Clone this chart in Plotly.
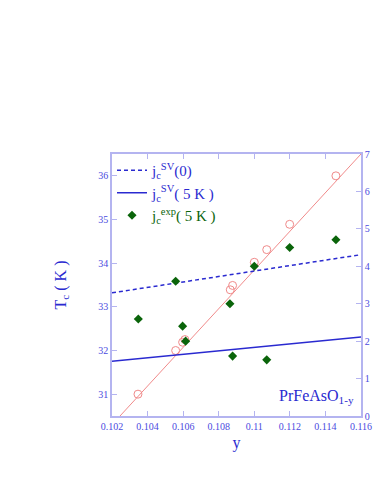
import plotly.graph_objects as go

# Tc vs y (left axis)
tc_y = [0.10346, 0.10558, 0.10597, 0.10610, 0.10865, 0.10878, 0.11000, 0.11070, 0.11199, 0.11459]
tc_val = [31.0, 32.0, 32.19, 32.25, 33.39, 33.49, 34.02, 34.31, 34.89, 36.0]
fit_y = [0.10245, 0.11600]
fit_tc = [30.5, 36.5]

# jc values (right axis)
jexp_y = [0.10348, 0.10558, 0.10597, 0.10614, 0.10863, 0.10878, 0.11070, 0.11000, 0.11199, 0.11459]
jexp_val = [2.59, 3.60, 2.40, 2.00, 3.00, 1.60, 1.50, 4.00, 4.50, 4.71]
jsv0_y = [0.102, 0.116]
jsv0_val = [3.29, 4.31]
jsv5_y = [0.102, 0.116]
jsv5_val = [1.46, 2.11]

x_ticks = [0.102, 0.104, 0.106, 0.108, 0.110, 0.112, 0.114, 0.116]
x_ticktext = ["0.102", "0.104", "0.106", "0.108", "0.11", "0.112", "0.114", "0.116"]

BLUE = "#2a2ad0"
TICKC = "#4a4ae0"
AXC = "#b4b4f0"
GREEN = "#0a640a"
RED = "#f08a8a"
FONT = "Liberation Serif"

fig = go.Figure()
fig.add_trace(go.Scatter(x=jsv0_y, y=jsv0_val, mode="lines", yaxis="y2",
                         line=dict(color=BLUE, width=1.5, dash="4px,3px"),
                         name="j<sub>c</sub><sup>SV</sup>(0)"))
fig.add_trace(go.Scatter(x=jsv5_y, y=jsv5_val, mode="lines", yaxis="y2",
                         line=dict(color=BLUE, width=1.5),
                         name="j<sub>c</sub><sup>SV</sup>( 5 K )"))
fig.add_trace(go.Scatter(x=jexp_y, y=jexp_val, mode="markers", yaxis="y2",
                         marker=dict(symbol="diamond", color=GREEN, size=7),
                         name="<span style='color:%s'>j<sub>c</sub><sup>exp</sup>( 5 K )</span>" % GREEN))
fig.add_trace(go.Scatter(x=fit_y, y=fit_tc, mode="lines",
                         line=dict(color=RED, width=1), showlegend=False))
fig.add_trace(go.Scatter(x=tc_y, y=tc_val, mode="markers",
                         marker=dict(symbol="circle-open", color=RED, size=8, line=dict(width=1)),
                         showlegend=False))

fig.update_layout(
    width=374, height=484,
    margin=dict(l=112, r=13, t=154, b=68),
    paper_bgcolor="white", plot_bgcolor="white",
    font=dict(family=FONT, color=BLUE),
    xaxis=dict(range=[0.102, 0.116], tickvals=x_ticks, ticktext=x_ticktext, automargin=False,
               ticks="inside", ticklen=5, tickcolor=AXC, showline=True, linecolor=AXC,
               linewidth=1.5, mirror="ticks", showgrid=False, zeroline=False,
               tickfont=dict(size=10, color=TICKC, family=FONT),
               title=dict(text="y", font=dict(size=16, color=BLUE), standoff=6)),
    yaxis=dict(range=[30.5, 36.5], tickvals=[31, 32, 33, 34, 35, 36], automargin=False,
               ticks="inside", ticklen=5, tickcolor=AXC, showline=True, linecolor=AXC,
               linewidth=1.5, showgrid=False, zeroline=False,
               tickfont=dict(size=10, color=TICKC, family=FONT),
               title=dict(text="T<sub>c</sub> ( K )", font=dict(size=16, color=BLUE), standoff=28)),
    yaxis2=dict(range=[0, 7], tickvals=[0, 1, 2, 3, 4, 5, 6, 7], overlaying="y", side="right",
                automargin=False,
                ticks="inside", ticklen=5, tickcolor=AXC, showline=True, linecolor=AXC,
                linewidth=1.5, showgrid=False, zeroline=False,
                tickfont=dict(size=10, color=TICKC, family=FONT)),
    legend=dict(x=0.0, y=1.0, xanchor="left", yanchor="top", bgcolor="rgba(0,0,0,0)",
                font=dict(size=15, color=BLUE, family=FONT), tracegroupgap=0, itemwidth=30),
    annotations=[dict(x=0.98, y=0.03, xref="paper", yref="paper", xanchor="right", yanchor="bottom",
                      text="PrFeAsO<sub>1-y</sub>", showarrow=False,
                      font=dict(size=16, color=BLUE, family=FONT))],
)

fig.write_html("out.html", config={"displayModeBar": False},
               post_script="document.body.style.margin='0';document.body.style.overflow='hidden';")
